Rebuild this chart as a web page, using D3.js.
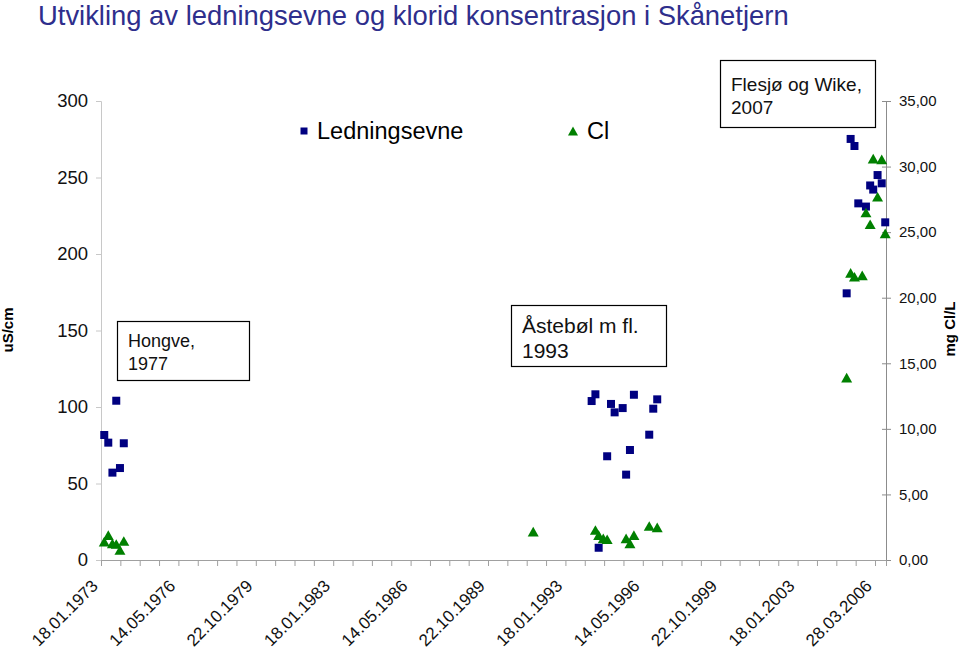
<!DOCTYPE html>
<html><head><meta charset="utf-8">
<script src="https://cdn.jsdelivr.net/npm/d3@7"></script>
<style>
body{margin:0;background:#fff}
svg{display:block;font-family:"Liberation Sans",Arial,sans-serif}
</style>
</head><body>
<svg id="c" width="959" height="653"></svg>
<script>
// ---- data ----
const sampleDates = [
  "1973-03-10","1973-05-12","1973-07-16","1973-09-14","1973-11-11","1974-01-10",
  "1991-08-01","1994-02-01","1994-04-01","1994-05-22","1994-08-02","1994-10-02",
  "1994-12-01","1995-01-27","1995-06-02","1995-07-26","1995-09-24","1995-11-25",
  "1996-07-22","1996-09-23","1996-11-24",
  "2005-01-08","2005-03-11","2005-05-10","2005-07-09","2005-09-09","2005-11-06",
  "2006-01-11","2006-02-28","2006-05-07","2006-07-11","2006-09-04"
];
const ledningsevne = [
  81.7, 76.7, 57.1, 104.1, 60.1, 76.3,
  null, 103.9, 108.3, 8.0, null, 67.8,
  102, 96.5, 99.3, 55.8, 71.9, 108,
  81.9, 98.9, 105,
  174.3, 275.2, 270.6, 233.1, null, 231,
  244.8, 242.1, 251.6, 246.2, 220.7
];
const klorid = [
  1.4, 1.9, 1.27, 1.22, 0.76, 1.45,
  2.16, null, 2.29, 1.9, 1.65, 1.58,
  null, null, null, 1.65, 1.27, 1.9,
  2.59, null, 2.49,
  13.9, 21.9, 21.6, null, 21.7, 26.5,
  25.6, 30.6, 27.7, 30.55, 24.9
];
const xTickLabels = ["18.01.1973","14.05.1976","22.10.1979","18.01.1983","14.05.1986",
  "22.10.1989","18.01.1993","14.05.1996","22.10.1999","18.01.2003","28.03.2006"];
const leftTicks = [0, 50, 100, 150, 200, 250, 300];
const rightTicks = [0, 5, 10, 15, 20, 25, 30, 35];
const notes = [
  {lines:["Hongve,","1977"], x:117, y:321, w:132, h:59, fs:18, top:26, lh:23},
  {lines:["Åstebøl m fl.","1993"], x:511, y:305, w:155, h:61, fs:21, top:28, lh:25},
  {lines:["Flesjø og Wike,","2007"], x:720, y:60, w:155, h:67, fs:19, top:31, lh:23}
];
const seriesNames = ["Ledningsevne", "Cl"];

// ---- chart ----
const svg = d3.select("#c");
const parse = d3.utcParse("%Y-%m-%d");
const DAY = 864e5;
const d0 = Date.UTC(1973, 0, 18);
const majorDays = 1212.2, minorDays = majorDays / 4;
const dEnd = d0 + 12294 * DAY;

const m = {left:101, right:886, top:101, bottom:560};
const x = d3.scaleUtc().domain([new Date(d0), new Date(dEnd)]).range([m.left, m.right]);
const yL = d3.scaleLinear().domain([0, 300]).range([m.bottom, m.top]);
const yR = d3.scaleLinear().domain([0, 35]).range([m.bottom, m.top]);

// title
svg.append("text").attr("x", 38).attr("y", 25)
  .attr("font-size", 27.4).attr("fill", "#2e2e8c")
  .text("Utvikling av ledningsevne og klorid konsentrasjon i Skånetjern");

// left axis
const gL = svg.append("g").attr("transform", `translate(${m.left},0)`)
  .call(d3.axisLeft(yL).tickValues(leftTicks).tickSize(5).tickPadding(8).tickFormat(d3.format("d")));
gL.select(".domain").attr("stroke", "#c8c8c8");
gL.selectAll(".tick line").attr("stroke", "#c8c8c8");
gL.selectAll(".tick text").attr("font-size", 18.5).attr("fill", "#111").attr("font-family", null);

// right axis
const gR = svg.append("g").attr("transform", `translate(${m.right},0)`)
  .call(d3.axisRight(yR).tickValues(rightTicks).tickSize(5).tickPadding(8)
    .tickFormat(d => d3.format(".2f")(d).replace(".", ",")));
gR.select(".domain").attr("stroke", "#8c8c8c");
gR.selectAll(".tick line").attr("stroke", "#8c8c8c").attr("x1", -4);
gR.selectAll(".tick text").attr("font-size", 15).attr("fill", "#111").attr("font-family", null);

// bottom axis (ticks)
const minorTicks = d3.range(0, 41).map(i => new Date(d0 + i * minorDays * DAY)).filter(d => +d <= dEnd);
const gB = svg.append("g").attr("transform", `translate(0,${m.bottom})`)
  .call(d3.axisBottom(x).tickValues(minorTicks).tickSize(6).tickFormat(""));
gB.select(".domain").attr("stroke", "#a0a0a0");
gB.selectAll(".tick line").attr("stroke", "#a0a0a0");

// bottom labels
const majorTicks = xTickLabels.map((s, i) => ({label:s, date:new Date(d0 + i * majorDays * DAY)}));
svg.append("g").selectAll("text").data(majorTicks).join("text")
  .attr("transform", d => `translate(${x(d.date) - 2},${587}) rotate(-45)`)
  .attr("text-anchor", "end").attr("font-size", 17).attr("fill", "#111")
  .text(d => d.label);

// axis titles
svg.append("text").attr("transform", "translate(13,330) rotate(-90)")
  .attr("text-anchor", "middle").attr("font-size", 15).attr("font-weight", "bold")
  .text("uS/cm");
svg.append("text").attr("transform", "translate(955,329) rotate(-90)")
  .attr("text-anchor", "middle").attr("font-size", 15).attr("font-weight", "bold")
  .text("mg Cl/L");

// data
const rows = sampleDates.map((s, i) => ({date: parse(s), led: ledningsevne[i], cl: klorid[i]}));
const sq = d3.symbol(d3.symbolSquare, 64);
const triPath = (w) => { const h = w * 0.88; return `M0,${-h/2}L${w/2},${h/2}L${-w/2},${h/2}Z`; };

svg.append("g").selectAll("path").data(rows.filter(r => r.led != null)).join("path")
  .attr("d", sq).attr("fill", "#000080")
  .attr("transform", r => `translate(${x(r.date)},${yL(r.led)})`);
svg.append("g").selectAll("path").data(rows.filter(r => r.cl != null)).join("path")
  .attr("d", triPath(11)).attr("fill", "#008000")
  .attr("transform", r => `translate(${x(r.date)},${yR(r.cl)})`);

// legend
const lg = svg.append("g");
lg.append("path").attr("d", d3.symbol(d3.symbolSquare, 49)).attr("fill", "#000080")
  .attr("transform", "translate(304,131)");
lg.append("text").attr("x", 317).attr("y", 139).attr("font-size", 23.5).text(seriesNames[0]);
lg.append("path").attr("d", triPath(10)).attr("fill", "#008000")
  .attr("transform", "translate(573,131)");
lg.append("text").attr("x", 587).attr("y", 139).attr("font-size", 23.5).text(seriesNames[1]);

// annotation boxes
notes.forEach(n => {
  const g = svg.append("g");
  g.append("rect").attr("x", n.x + 0.5).attr("y", n.y + 0.5).attr("width", n.w).attr("height", n.h)
    .attr("fill", "#fff").attr("stroke", "#000").attr("stroke-width", 1.2);
  n.lines.forEach((l, i) => {
    g.append("text").attr("x", n.x + 11).attr("y", n.y + n.top + i * n.lh)
      .attr("font-size", n.fs).attr("fill", "#111").text(l);
  });
});
</script>
</body></html>
